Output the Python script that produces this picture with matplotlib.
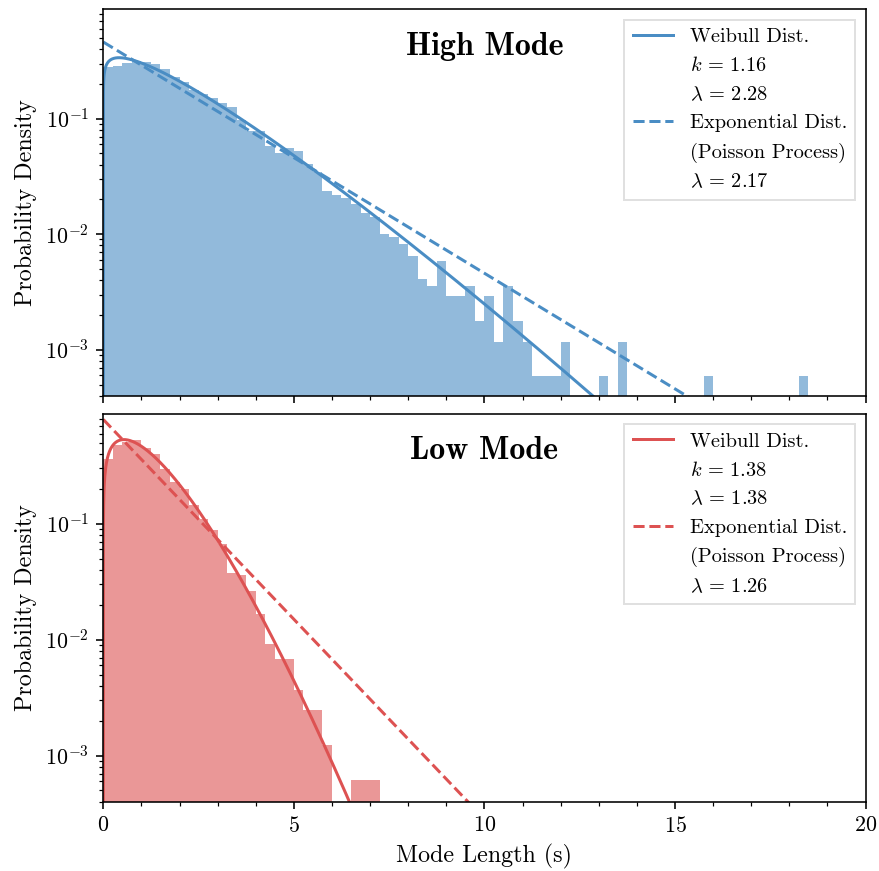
import numpy as np
import matplotlib
matplotlib.use("Agg")
import matplotlib.pyplot as plt
from matplotlib.ticker import AutoMinorLocator

plt.rcParams["font.family"] = "serif"
plt.rcParams["font.serif"] = ["cmr10"]
plt.rcParams["mathtext.fontset"] = "cm"
plt.rcParams["axes.formatter.use_mathtext"] = True
plt.rcParams["axes.unicode_minus"] = False

BIN_WIDTH = 0.25  # seconds

# counts per 0.25 s bin, starting at 0 s
high_counts = [473, 483, 517, 541, 530, 510, 459, 393, 356, 302,
               278, 256, 230, 213, 167, 134, 133, 98, 85, 95,
               90, 69, 59, 40, 37, 35, 31, 26, 24, 17,
               16, 14, 11, 7, 6, 10, 5, 5, 6, 3,
               5, 2, 6, 3, 2, 1, 1, 1, 2, 0,
               0, 0, 1, 0, 2, 0, 0, 0, 0, 0,
               0, 0, 0, 1, 0, 0, 0, 0, 0, 0,
               0, 0, 0, 1]
low_counts = [583, 771, 824, 851, 732, 644, 485, 372, 321, 234,
              177, 142, 109, 61, 59, 43, 27, 15, 11, 11,
              6, 4, 4, 2, 0, 0, 1, 1, 1]

# fitted parameters
high_weibull = (1.16, 2.28)   # shape k, scale lambda
high_expo = 2.17
low_weibull = (1.38, 1.38)
low_expo = 1.26

BLUE = "#4A8DC4"
RED = "#DD5252"


def weibull_pdf(x, k, lam):
    return (k / lam) * (x / lam) ** (k - 1) * np.exp(-(x / lam) ** k)


def expo_pdf(x, lam):
    return np.exp(-x / lam) / lam


def draw_panel(ax, counts, wb, ex, color, title):
    counts = np.asarray(counts, dtype=float)
    edges = np.arange(len(counts) + 1) * BIN_WIDTH
    centers = edges[:-1] + BIN_WIDTH / 2
    ax.hist(centers, bins=edges, weights=counts, density=True,
            histtype="stepfilled", color=color, alpha=0.6, lw=0)

    x = np.concatenate([np.geomspace(1e-30, 0.05, 300), np.linspace(0.05, 20, 3000)])
    ax.plot(x, weibull_pdf(x, *wb), color=color, lw=1.5, label="Weibull Dist.")
    ax.plot([], [], " ", label=r"$k \,=\, %.2f$" % wb[0])
    ax.plot([], [], " ", label=r"$\lambda \,=\, %.2f$" % wb[1])
    ax.plot(x, expo_pdf(x, ex), color=color, lw=1.5, ls="--", label="Exponential Dist.")
    ax.plot([], [], " ", label="(Poisson Process)")
    ax.plot([], [], " ", label=r"$\lambda \,=\, %.2f$" % ex)

    ax.set_yscale("log")
    ax.set_ylim(4.0e-4, 0.885)
    ax.set_xlim(0, 20)
    ax.xaxis.set_minor_locator(AutoMinorLocator(5))
    ax.set_ylabel("Probability Density", fontsize=12)
    ax.tick_params(labelsize=11)
    ax.text(0.5, 0.905, title, transform=ax.transAxes, ha="center", va="center",
            fontsize=16, family="cmb10")
    ax.legend(loc="upper right", fontsize=10.2, fancybox=False, edgecolor="0.85")


fig = plt.figure(figsize=(879 / 144, 871 / 144), dpi=144)
W, H = 879.0, 871.0
left, right = 103.3, 865.5
ax_hi = fig.add_axes([left / W, 1 - 395.7 / H, (right - left) / W, (395.7 - 9.3) / H])
ax_lo = fig.add_axes([left / W, 1 - 801.7 / H, (right - left) / W, (801.7 - 414.0) / H],
                     sharex=ax_hi)

draw_panel(ax_hi, high_counts, high_weibull, high_expo, BLUE, "High Mode")
draw_panel(ax_lo, low_counts, low_weibull, low_expo, RED, "Low Mode")

ax_hi.tick_params(labelbottom=False)
ax_lo.set_xlabel("Mode Length (s)", fontsize=12)
ax_lo.set_xticks([0, 5, 10, 15, 20])

fig.savefig("out.png", dpi=144)
